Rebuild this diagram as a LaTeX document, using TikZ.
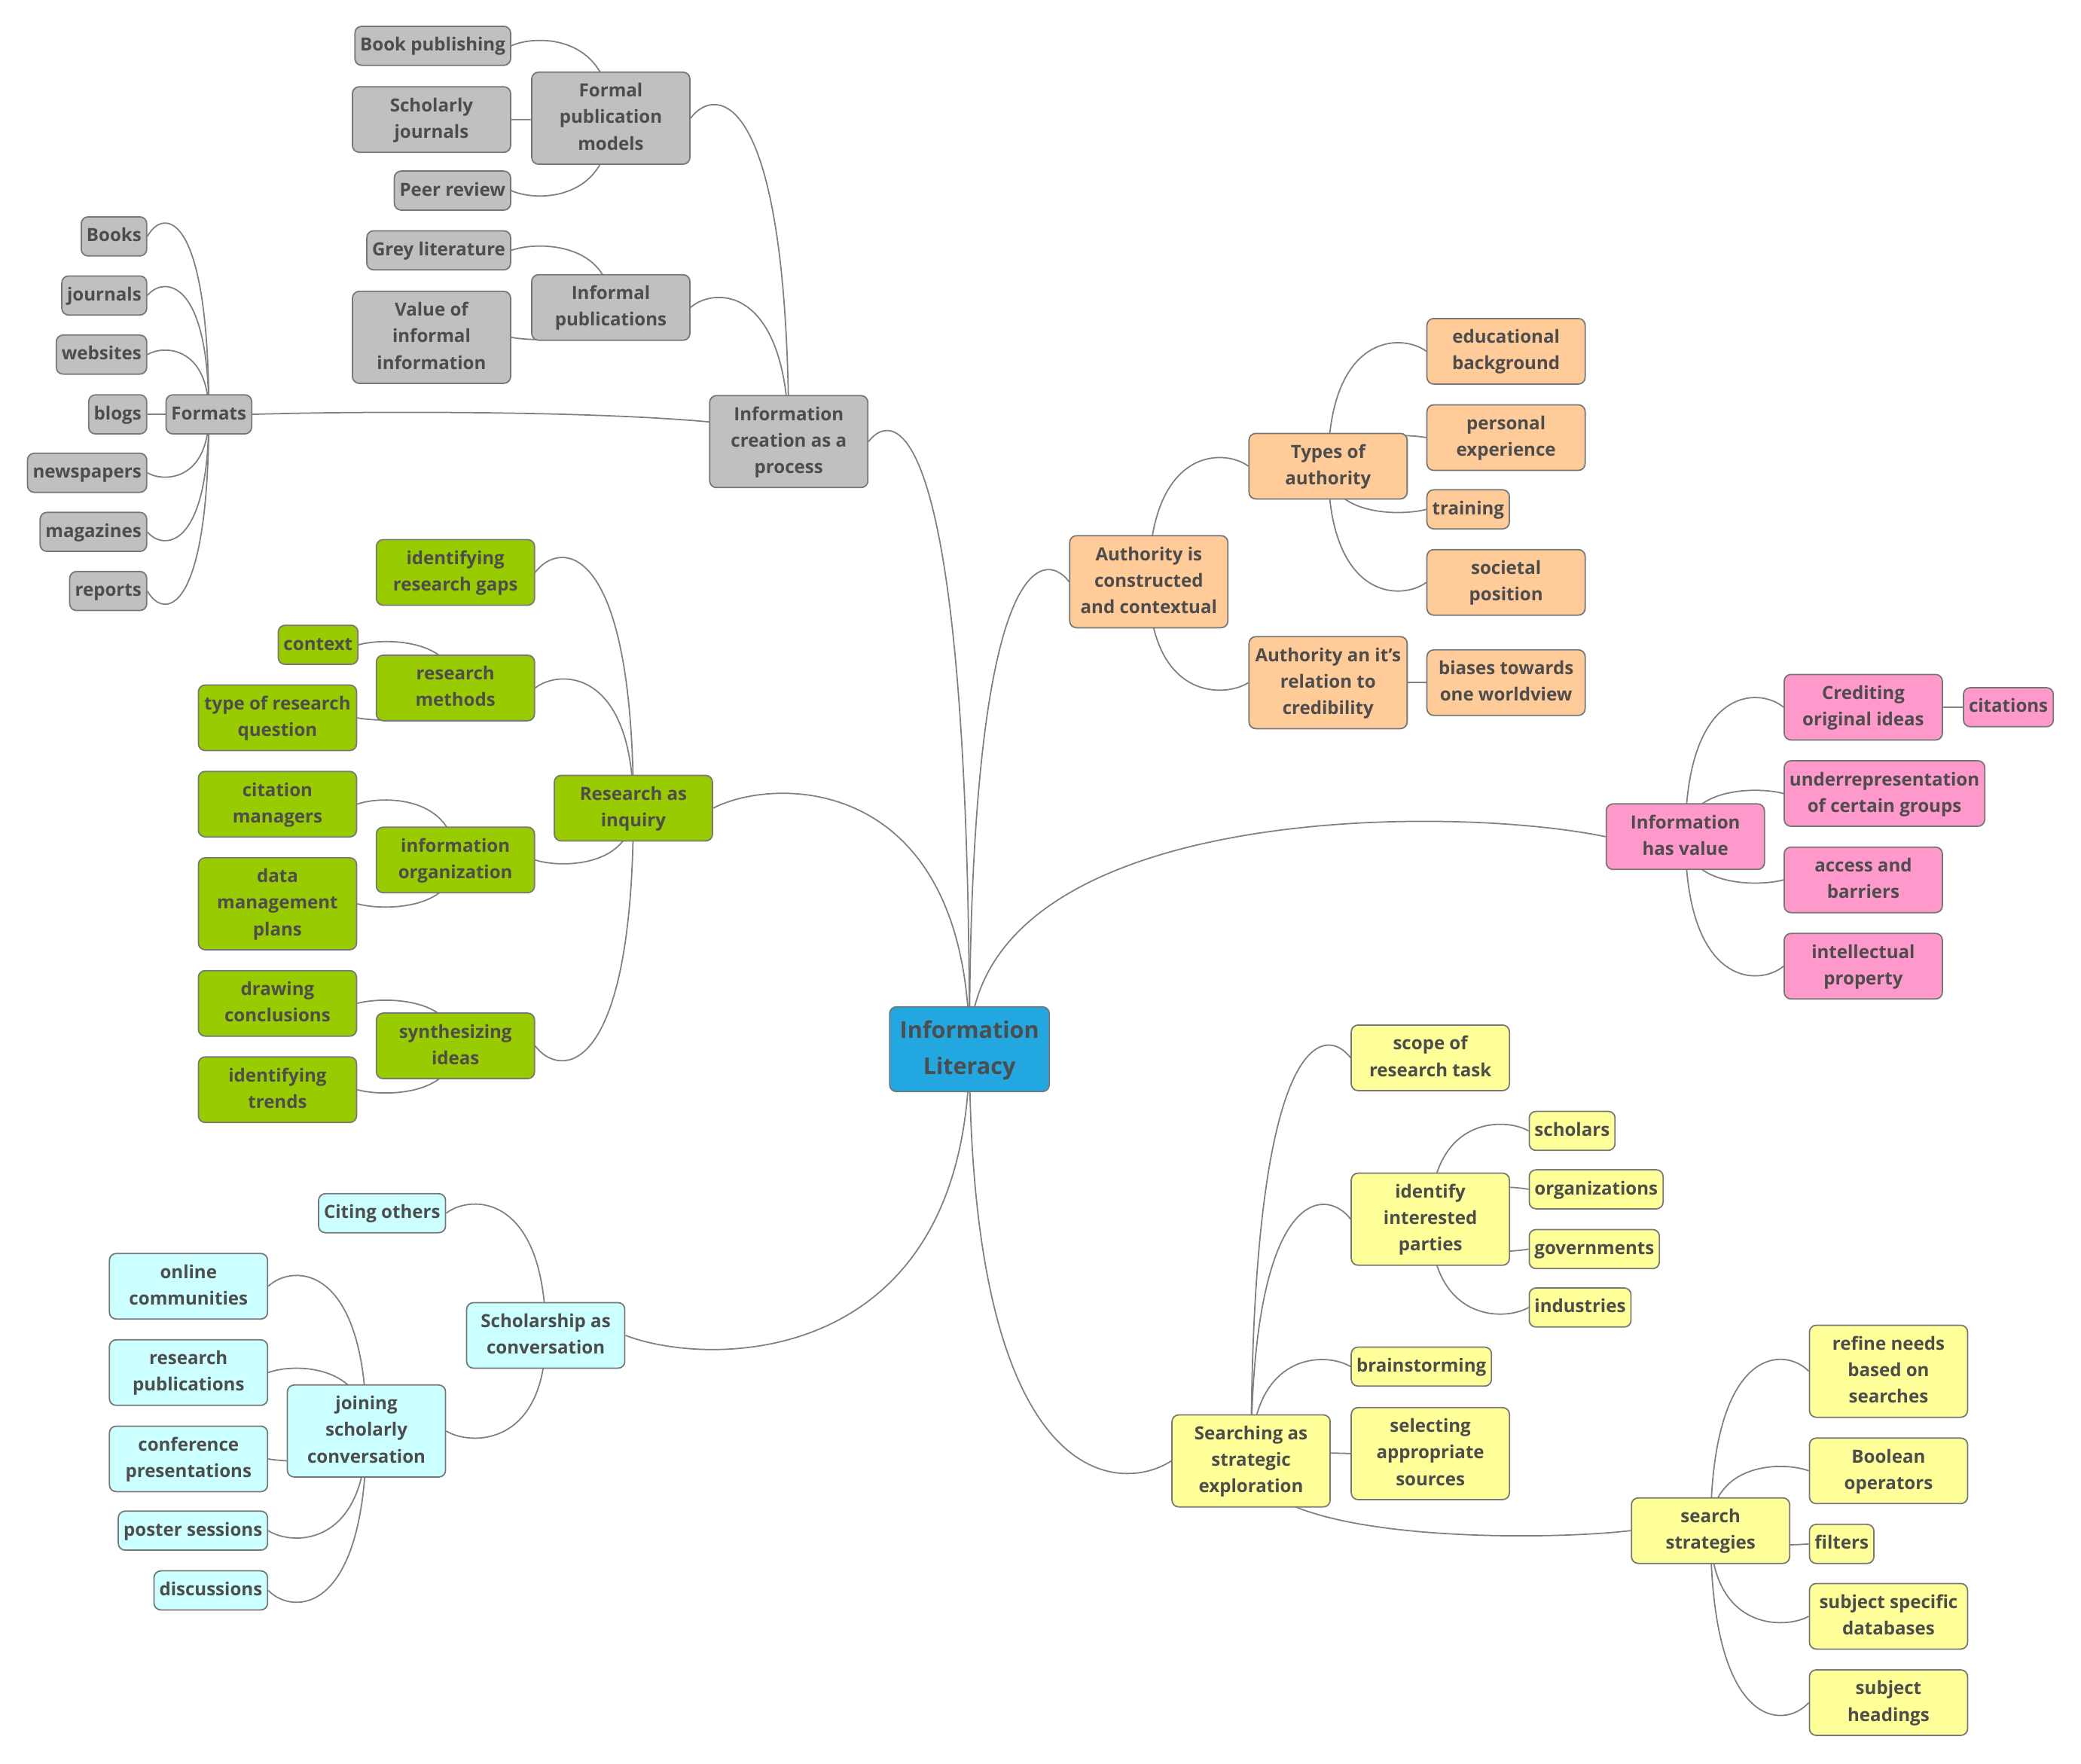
\documentclass[tikz,border=0pt]{standalone}
\usepackage{fontspec}
\setmainfont{Open Sans}
\usetikzlibrary{positioning}
\usetikzlibrary{backgrounds}
\usetikzlibrary{calc}

\definecolor{topicgray}{HTML}{C0C0C0}
\definecolor{topicgreen}{HTML}{99CC00}
\definecolor{topiccyan}{HTML}{CCFFFF}
\definecolor{topicorange}{HTML}{FFCC99}
\definecolor{topicpink}{HTML}{FF99CC}
\definecolor{topicyellow}{HTML}{FFFF99}
\definecolor{rootblue}{HTML}{22A7E0}
\definecolor{textgray}{HTML}{4D4D4D}
\definecolor{bordergray}{HTML}{777777}
\definecolor{linkgray}{HTML}{808080}

\tikzset{
  topic/.style={draw=bordergray, line width=0.5pt, rounded corners=0.9mm, text=textgray,
    font=\fontsize{6.85}{10}\selectfont\bfseries, align=center,
    inner xsep=2pt, inner ysep=2.375pt, text height=7pt, text depth=3pt},
  wide/.style={minimum width=21mm},
  two lines/.style={wide, text height=17pt},
  three lines/.style={wide, text height=27pt},
  gray topic/.style={topic, fill=topicgray},
  green topic/.style={topic, fill=topicgreen},
  cyan topic/.style={topic, fill=topiccyan},
  orange topic/.style={topic, fill=topicorange},
  pink topic/.style={topic, fill=topicpink},
  yellow topic/.style={topic, fill=topicyellow},
  central/.style={topic, fill=rootblue, font=\fontsize{8.7}{13.5}\selectfont\bfseries,
    minimum width=21.2mm, inner ysep=2.5pt, text height=22.95pt, text depth=4.05pt},
  link/.style={draw=linkgray, line width=0.5pt,
    to path={let \p1=(\tikztostart), \p2=(\tikztotarget),
                 \n1={min(0.16, 12.5/max(abs((\y2)-(\y1)),1))} in
      .. controls (\x1, {(\y2)+\n1*((\y2)-(\y1))})
         and ({0.75*(\x2)+0.25*(\x1)}, {(\y2)+\n1*((\y2)-(\y1))}) .. (\tikztotarget)}}
}

\begin{document}
\begin{tikzpicture}[x=0.1763mm, y=-0.1763mm]
  \useasboundingbox (0,0) rectangle (1567,1328);

  \node[central] (root) at (730,790) {Information\\Literacy};

  % information creation
  \node[gray topic, three lines, anchor=east] (info_creation) at (654,332.5) {Information\\creation as a\\process};
  \node[gray topic, three lines, anchor=east] (formal_pub) at (520,89) {Formal\\publication\\models};
  \node[gray topic, anchor=east] (book_pub) at (385,34.5) {Book publishing};
  \node[gray topic, two lines, anchor=east] (scholarly_journals) at (385,90) {Scholarly\\journals};
  \node[gray topic, anchor=east] (peer_review) at (385,143.5) {Peer review};
  \node[gray topic, two lines, anchor=east] (informal_pub) at (520,231.5) {Informal\\publications};
  \node[gray topic, anchor=east] (grey_lit) at (385,188.5) {Grey literature};
  \node[gray topic, three lines, anchor=east] (value_informal) at (385,254) {Value of\\informal\\information};
  \node[gray topic, anchor=east] (formats) at (190,312) {Formats};
  \node[gray topic, anchor=east] (books) at (111,178) {Books};
  \node[gray topic, anchor=east] (journals) at (111,222.5) {journals};
  \node[gray topic, anchor=east] (websites) at (111,267) {websites};
  \node[gray topic, anchor=east] (blogs) at (111,312) {blogs};
  \node[gray topic, anchor=east] (newspapers) at (111,356) {newspapers};
  \node[gray topic, anchor=east] (magazines) at (111,400.5) {magazines};
  \node[gray topic, anchor=east] (reports) at (111,445) {reports};

  % research as inquiry
  \node[green topic, two lines, anchor=east] (research_inquiry) at (537,608.5) {Research as\\inquiry};
  \node[green topic, two lines, anchor=east] (research_gaps) at (403,431) {identifying\\research gaps};
  \node[green topic, two lines, anchor=east] (research_methods) at (403,518) {research\\methods};
  \node[green topic, anchor=east] (context) at (270,485.5) {context};
  \node[green topic, two lines, anchor=east] (question_type) at (269,540.5) {type of research\\question};
  \node[green topic, two lines, anchor=east] (info_organization) at (403,647.5) {information\\organization};
  \node[green topic, two lines, anchor=east] (citation_managers) at (269,605.5) {citation\\managers};
  \node[green topic, three lines, anchor=east] (data_plans) at (269,680.5) {data\\management\\plans};
  \node[green topic, two lines, anchor=east] (synthesizing) at (403,787.5) {synthesizing\\ideas};
  \node[green topic, two lines, anchor=east] (conclusions) at (269,755.5) {drawing\\conclusions};
  \node[green topic, two lines, anchor=east] (trends) at (269,820.5) {identifying\\trends};

  % scholarship as conversation
  \node[cyan topic, two lines, anchor=east] (scholarship) at (471,1005.5) {Scholarship as\\conversation};
  \node[cyan topic, anchor=east] (citing) at (336,913.5) {Citing others};
  \node[cyan topic, three lines, anchor=east] (joining) at (336,1077.5) {joining\\scholarly\\conversation};
  \node[cyan topic, two lines, anchor=east] (online) at (202,968.5) {online\\communities};
  \node[cyan topic, two lines, anchor=east] (research_pubs) at (202,1033.5) {research\\publications};
  \node[cyan topic, two lines, anchor=east] (conference) at (202,1098.5) {conference\\presentations};
  \node[cyan topic, anchor=east] (poster) at (202,1152.5) {poster sessions};
  \node[cyan topic, anchor=east] (discussions) at (202,1197.5) {discussions};

  % authority
  \node[orange topic, three lines, anchor=west] (authority) at (805,438) {Authority is\\constructed\\and contextual};
  \node[orange topic, two lines, anchor=west] (authority_types) at (940,351) {Types of\\authority};
  \node[orange topic, two lines, anchor=west] (education) at (1074,264.5) {educational\\background};
  \node[orange topic, two lines, anchor=west] (experience) at (1074,329.5) {personal\\experience};
  \node[orange topic, anchor=west] (training) at (1074,383.5) {training};
  \node[orange topic, two lines, anchor=west] (societal) at (1074,438.5) {societal\\position};
  \node[orange topic, three lines, anchor=west] (credibility) at (940,514) {Authority an it's\\relation to\\credibility};
  \node[orange topic, two lines, anchor=west] (biases) at (1074,514) {biases towards\\one worldview};

  % information has value
  \node[pink topic, two lines, anchor=west] (info_value) at (1209,630) {Information\\has value};
  \node[pink topic, two lines, anchor=west] (crediting) at (1343,532.5) {Crediting\\original ideas};
  \node[pink topic, anchor=west] (citations) at (1478,532.5) {citations};
  \node[pink topic, two lines, anchor=west] (underrep) at (1343,597.5) {underrepresentation\\of certain groups};
  \node[pink topic, two lines, anchor=west] (access) at (1343,662.5) {access and\\barriers};
  \node[pink topic, two lines, anchor=west] (intellectual) at (1343,727.5) {intellectual\\property};

  % searching as strategic exploration
  \node[yellow topic, three lines, anchor=west] (searching) at (882,1100) {Searching as\\strategic\\exploration};
  \node[yellow topic, two lines, anchor=west] (scope) at (1017,796.5) {scope of\\research task};
  \node[yellow topic, three lines, anchor=west] (interested) at (1017,918) {identify\\interested\\parties};
  \node[yellow topic, anchor=west] (scholars) at (1151,851.5) {scholars};
  \node[yellow topic, anchor=west] (organizations) at (1151,895.5) {organizations};
  \node[yellow topic, anchor=west] (governments) at (1151,940.5) {governments};
  \node[yellow topic, anchor=west] (industries) at (1151,984.5) {industries};
  \node[yellow topic, anchor=west] (brainstorming) at (1017,1029) {brainstorming};
  \node[yellow topic, three lines, anchor=west] (selecting) at (1017,1094.5) {selecting\\appropriate\\sources};
  \node[yellow topic, two lines, anchor=west] (strategies) at (1228,1152.5) {search\\strategies};
  \node[yellow topic, three lines, anchor=west] (refine) at (1362,1032.5) {refine needs\\based on\\searches};
  \node[yellow topic, two lines, anchor=west] (boolean) at (1362,1107.5) {Boolean\\operators};
  \node[yellow topic, anchor=west] (filters) at (1362,1162.5) {filters};
  \node[yellow topic, two lines, anchor=west] (databases) at (1362,1217) {subject specific\\databases};
  \node[yellow topic, two lines, anchor=west] (headings) at (1362,1282) {subject\\headings};

  \begin{scope}[on background layer, every edge/.style={link}]
    \path (root.center) edge (info_creation.east) edge (research_inquiry.east)
                        edge (scholarship.east) edge (authority.west)
                        edge (info_value.west) edge (searching.west);
    \path (info_creation.center) edge (formal_pub.east) edge (informal_pub.east) edge (formats.east);
    \path (formal_pub.center) edge (book_pub.east) edge (scholarly_journals.east) edge (peer_review.east);
    \path (informal_pub.center) edge (grey_lit.east) edge (value_informal.east);
    \path (formats.center) edge (books.east) edge (journals.east) edge (websites.east) edge (blogs.east)
                           edge (newspapers.east) edge (magazines.east) edge (reports.east);
    \path (research_inquiry.center) edge (research_gaps.east) edge (research_methods.east)
                                    edge (info_organization.east) edge (synthesizing.east);
    \path (research_methods.center) edge (context.east) edge (question_type.east);
    \path (info_organization.center) edge (citation_managers.east) edge (data_plans.east);
    \path (synthesizing.center) edge (conclusions.east) edge (trends.east);
    \path (scholarship.center) edge (citing.east) edge (joining.east);
    \path (joining.center) edge (online.east) edge (research_pubs.east) edge (conference.east)
                           edge (poster.east) edge (discussions.east);
    \path (authority.center) edge (authority_types.west) edge (credibility.west);
    \path (authority_types.center) edge (education.west) edge (experience.west)
                                   edge (training.west) edge (societal.west);
    \path (credibility.center) edge (biases.west);
    \path (info_value.center) edge (crediting.west) edge (underrep.west)
                              edge (access.west) edge (intellectual.west);
    \path (crediting.center) edge (citations.west);
    \path (searching.center) edge (scope.west) edge (interested.west) edge (brainstorming.west)
                             edge (selecting.west) edge (strategies.west);
    \path (interested.center) edge (scholars.west) edge (organizations.west)
                              edge (governments.west) edge (industries.west);
    \path (strategies.center) edge (refine.west) edge (boolean.west) edge (filters.west)
                              edge (databases.west) edge (headings.west);
  \end{scope}
\end{tikzpicture}
\end{document}
